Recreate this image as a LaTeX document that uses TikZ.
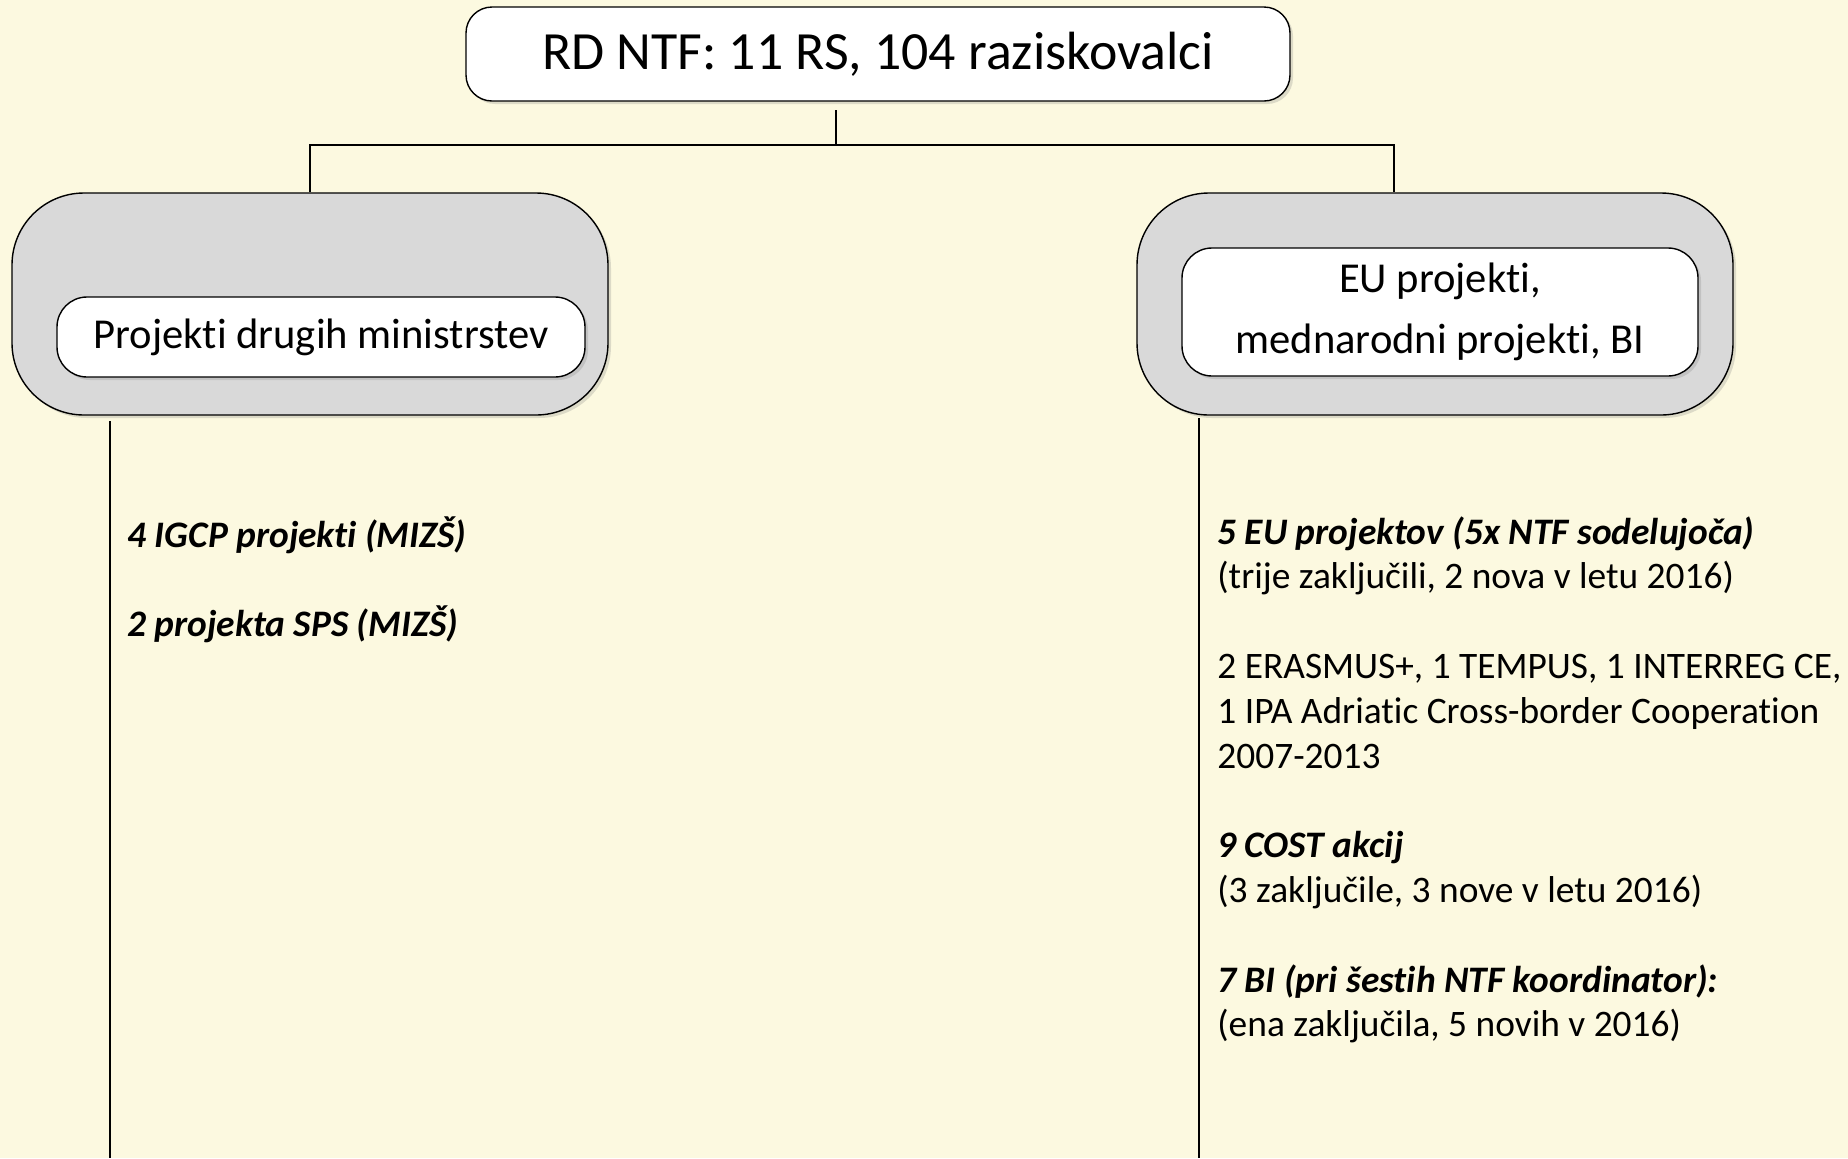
\documentclass[tikz,border=0pt]{standalone}
\usepackage{fontspec}
\setmainfont{Carlito}[Ligatures=NoCommon]
\usepackage{tikz}
\usetikzlibrary{positioning}
\usetikzlibrary{shadows}
\definecolor{paper}{RGB}{252,249,224}
\definecolor{panel}{RGB}{217,217,217}
\newcommand{\listsize}{\fontsize{18.7}{22.4}\selectfont}
\newcommand{\gap}{\\[22.4pt]}
\tikzset{
    common/.style={draw, line width=0.7pt, drop shadow={shadow xshift=1.5pt, shadow yshift=-1.5pt, opacity=.25}},
    headbox/.style={common, fill=white, rounded corners=13pt, minimum width=412pt, minimum height=47pt, font=\fontsize{26.9}{32}\selectfont},
    outerbox/.style={common, fill=panel, rounded corners=36pt, minimum width=298pt, minimum height=111pt},
    innerbox/.style={common, fill=white, rounded corners=15pt, align=center, font=\fontsize{21.3}{30.6}\selectfont},
    items/.style={anchor=north west, inner sep=0pt, align=left, font=\listsize},
    leg/.style={line width=0.7pt},
}

\begin{document}
\begin{tikzpicture}[x=0.5pt, y=-0.5pt]
    \fill[paper] (0,0) rectangle (1848,1158);
    \useasboundingbox (0,0) rectangle (1848,1158);

    \node[headbox] (rd) at (878,54) {RD NTF: 11 RS, 104 raziskovalci};

    \node[outerbox] (others) at (310,304) {};
    \node[innerbox, minimum width=264pt, minimum height=40pt] (othersin) at (321,337) {Projekti drugih ministrstev};

    \node[outerbox] (eu) at (1435,304) {};
    \node[innerbox, minimum width=258pt, minimum height=64pt] (euin) at (1440,312) {EU projekti,\\mednarodni projekti, BI};

    \coordinate (stem) at (836,110);
    \coordinate (bus) at (836,145);
    \coordinate (eutop) at (1394,192);
    \draw[leg] (stem) -- (bus);
    \draw[leg] (others.north) |- (bus) -| (eutop);

    \coordinate (othersleg) at (110,421);
    \coordinate (othersfoot) at (110,1158);
    \coordinate (euleg) at (1199,418);
    \coordinate (eufoot) at (1199,1158);
    \draw[leg] (othersleg) -- (othersfoot);
    \draw[leg] (euleg) -- (eufoot);

    \node[items] (otherslist) at (127,516) {%
        \textbf{\textit{4 IGCP projekti (MIZŠ)}}\gap
        \textbf{\textit{2 projekta SPS (MIZŠ)}}};

    \node[items] (eulist) at (1217,516) {%
        \textbf{\textit{5 EU projektov (5x NTF sodelujoča)}}\\
        (trije zaključili, 2 nova v letu 2016)\gap
        2 ERASMUS+, 1 TEMPUS, 1 INTERREG CE,\\
        1 IPA Adriatic Cross-border Cooperation\\
        2007-2013\gap
        \textbf{\textit{9 COST akcij}}\\
        (3 zaključile, 3 nove v letu 2016)\gap
        \textbf{\textit{7 BI (pri šestih NTF koordinator):}}\\
        (ena zaključila, 5 novih v 2016)};
\end{tikzpicture}
\end{document}
